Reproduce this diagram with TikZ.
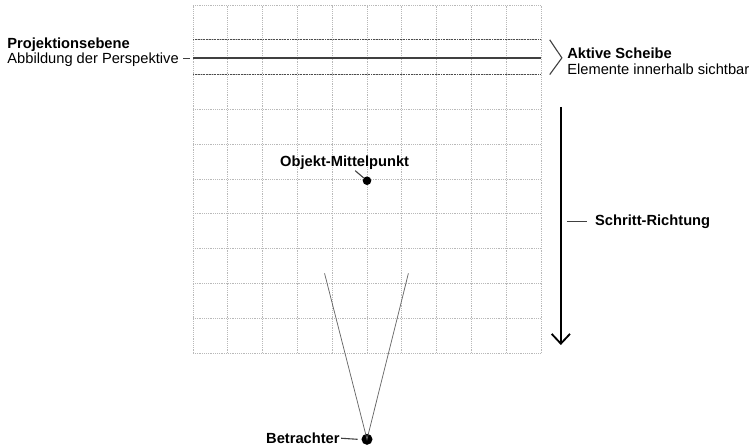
\documentclass[tikz,border=0pt]{standalone}
\usepackage{fontspec}
\setmainfont{Liberation Sans}
\usetikzlibrary{arrows.meta}

\tikzset{
	raster/.style={gray!55, line width=0.5pt, dash pattern=on 0.6pt off 0.9pt},
	scheibe/.style={black!70, line width=0.8pt, dash pattern=on 0.7pt off 0.6pt},
	zeiger/.style={black!75, line width=0.9pt},
	punkt/.style={circle, fill=black, inner sep=0pt},
	beschriftung/.style={inner sep=0pt, font=\fontsize{12}{13}\selectfont},
	titel/.style={beschriftung, font=\fontsize{12}{13}\selectfont\bfseries}
}

\begin{document}
\begin{tikzpicture}[>={Straight Barb[length=8pt,width=15pt]}]
	
	% Rahmen des Bildes
	\useasboundingbox (-5.546,-2.644) rectangle (16.092,10.144);
	
	% Raster: 10 x 10 Felder
	\foreach \x in {0,1,2,3,4,5,6,7,8,9,10} {
		\draw[raster] (\x,0) -- (\x,10);
	}
	\foreach \y in {0,1,2,3,4,5,6,7,8,9,10} {
		\draw[raster] (0,\y) -- (10,\y);
	}
	
	% Aktive Scheibe und Projektionsebene
	\draw[scheibe] (0,9) -- (10,9);
	\draw[scheibe] (0,8) -- (10,8);
	\draw[black!75, line width=1pt] (0,8.48) -- (10,8.48);
	
	% Beschriftung links
	\node[titel, anchor=base west] (ebenetitel) at (-5.34,8.74) {Projektionsebene};
	\node[beschriftung, anchor=base west] (ebene) at (-5.34,8.33) {Abbildung der Perspektive};
	\coordinate (ebenelinie) at (-0.09,8.45);
	\draw[zeiger] (ebene.east |- ebenelinie) ++(0.12,0) -- (ebenelinie);
	
	% Klammer und Beschriftung rechts
	\draw[zeiger] (10.25,9) -- (10.6,8.48) -- (10.25,8);
	\node[titel, anchor=base west] (aktiv) at (10.75,8.47) {Aktive Scheibe};
	\node[beschriftung, anchor=base west] (sichtbar) at (10.75,8.01) {Elemente innerhalb sichtbar};
	
	% Schritt-Richtung
	\coordinate (schrittoben) at (10.57,7.07);
	\coordinate (schrittunten) at (10.57,0.23);
	\draw[->, line width=1.5pt] (schrittoben) -- (schrittunten);
	\node[titel, anchor=base west] (schritt) at (11.55,3.65) {Schritt-Richtung};
	\coordinate (schrittleiter) at (10.74,3.77);
	\draw[zeiger] (schrittleiter) -- ([xshift=-0.24cm]schritt.west |- schrittleiter);
	
	% Objekt-Mittelpunkt
	\node[punkt, minimum size=7pt] (objekt) at (5,4.95) {};
	\node[titel, anchor=base west] (objektlabel) at (2.5,5.37) {Objekt-Mittelpunkt};
	\coordinate (objektleiter) at (4.66,5.24);
	\draw[zeiger] (objektleiter) -- (objekt);
	
	% Betrachter mit Sichtkegel
	\node[punkt, minimum size=9pt] (betrachter) at (5,-2.48) {};
	\coordinate (sichtlinks) at (3.78,2.29);
	\coordinate (sichtrechts) at (6.19,2.29);
	\draw[gray!80!black, line width=0.6pt] (sichtlinks) -- (betrachter.center) -- (sichtrechts);
	\node[titel, anchor=base east] (betrachterlabel) at (4.22,-2.6) {Betrachter};
	\draw[zeiger] ([xshift=1pt]betrachterlabel.east) -- ([xshift=-3pt]betrachter.west);
	
\end{tikzpicture}
\end{document}
